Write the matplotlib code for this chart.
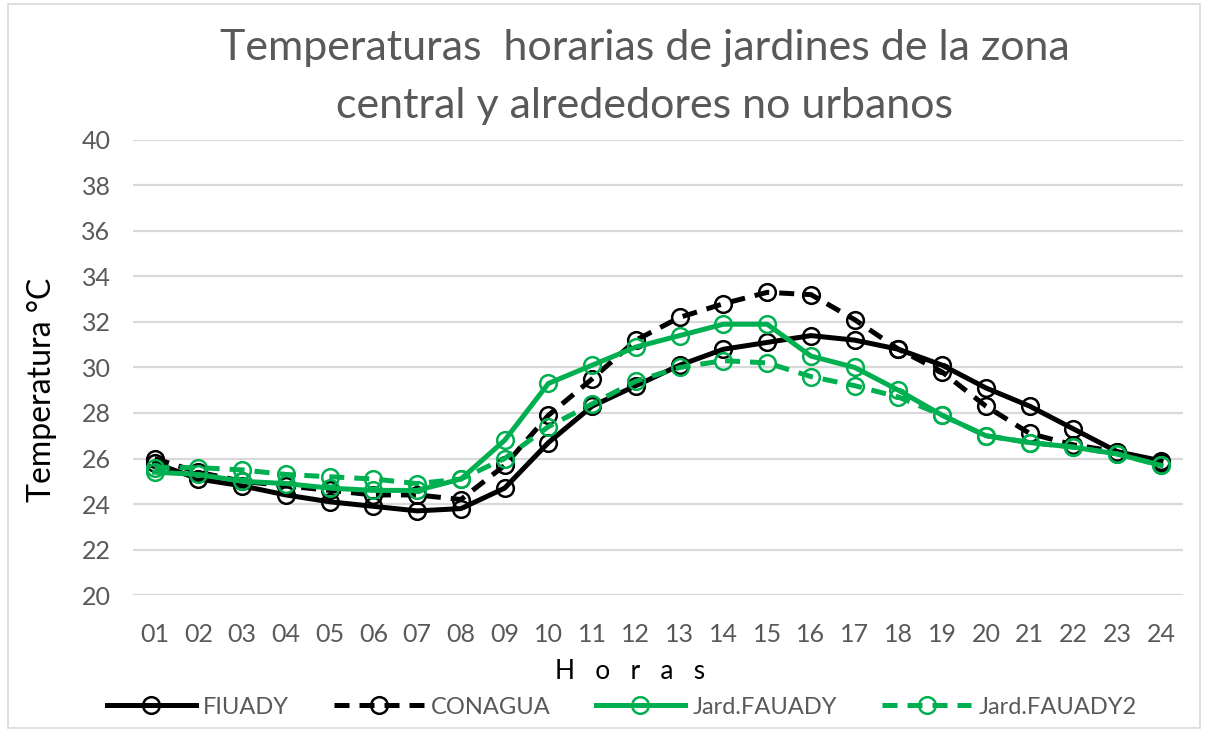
import matplotlib.pyplot as plt
from matplotlib.patches import Rectangle
import numpy as np

plt.rcParams['font.family'] = ['Lato', 'DejaVu Sans']

horas = ['01', '02', '03', '04', '05', '06', '07', '08', '09', '10', '11', '12',
         '13', '14', '15', '16', '17', '18', '19', '20', '21', '22', '23', '24']

fiuady = [25.8, 25.1, 24.8, 24.4, 24.1, 23.9, 23.7, 23.8, 24.7, 26.7, 28.3, 29.2,
          30.1, 30.8, 31.1, 31.4, 31.2, 30.8, 30.1, 29.1, 28.3, 27.3, 26.3, 25.9]
conagua = [26.0, 25.4, 25.0, 24.8, 24.6, 24.4, 24.4, 24.2, 25.7, 27.9, 29.5, 31.2,
           32.2, 32.8, 33.3, 33.2, 32.1, 30.8, 29.8, 28.3, 27.1, 26.6, 26.3, 25.8]
jard_fauady = [25.4, 25.3, 25.0, 24.9, 24.7, 24.6, 24.6, 25.1, 26.8, 29.3, 30.1, 30.9,
               31.4, 31.9, 31.9, 30.5, 30.0, 29.0, 27.9, 27.0, 26.7, 26.5, 26.2, 25.7]
jard_fauady2 = [25.6, 25.6, 25.5, 25.3, 25.2, 25.1, 24.9, 25.1, 26.0, 27.4, 28.4, 29.4,
                30.0, 30.3, 30.2, 29.6, 29.2, 28.7, 27.9, 27.0, 26.7, 26.5, 26.2, 25.7]

negro = '#000000'
verde = '#00B050'
gris = '#595959'

fig = plt.figure(figsize=(12.07, 7.32), dpi=100)
ax = fig.add_axes([0.110, 0.187, 0.870, 0.622])

x = np.arange(1, len(horas) + 1)
estilo = dict(lw=3.6, marker='o', ms=12, mew=1.8, mfc='none')
ax.plot(x, fiuady, color=negro, label='FIUADY', **estilo)
ax.plot(x, conagua, color=negro, dashes=(3, 2), label='CONAGUA', **estilo)
ax.plot(x, jard_fauady, color=verde, label='Jard.FAUADY', **estilo)
ax.plot(x, jard_fauady2, color=verde, dashes=(3, 2), label='Jard.FAUADY2', **estilo)

ax.set_xlim(0.5, len(horas) + 0.5)
ax.set_ylim(20, 40)
ax.set_yticks(np.arange(20, 41, 2))
ax.set_xticks(x)
ax.set_xticklabels(horas)
ax.yaxis.grid(True, color='#d9d9d9', lw=1.6)
ax.set_axisbelow(True)
for s in ax.spines.values():
    s.set_visible(False)
ax.tick_params(length=0, labelsize=18, labelcolor=gris)
ax.tick_params(axis='x', pad=20)
ax.tick_params(axis='y', pad=16)

# ejes y titulo como textos de figura
fig.text(0.035, 0.467, 'Temperatura °C', rotation=90, ha='center', va='center',
         fontsize=23, color=negro)
fig.text(0.522, 0.083, 'H   o   r   a   s', ha='center', va='center',
         fontsize=19, color=negro)
fig.text(0.534, 0.935, 'Temperaturas  horarias de jardines de la zona',
         ha='center', va='center', fontsize=31, color=gris)
fig.text(0.534, 0.855, 'central y alrededores no urbanos',
         ha='center', va='center', fontsize=31, color=gris)

leg = fig.legend(loc='center', bbox_to_anchor=(0.515, 0.034), ncol=4, frameon=False,
                 fontsize=17, handlelength=3.8, columnspacing=1.9, handletextpad=0.3)
for t in leg.get_texts():
    t.set_color(gris)

fig.patches.append(Rectangle((0.007, 0.005), 0.987, 0.99, transform=fig.transFigure,
                             fill=False, edgecolor='#d9d9d9', lw=1.2))

fig.savefig('out.png', dpi=100)
